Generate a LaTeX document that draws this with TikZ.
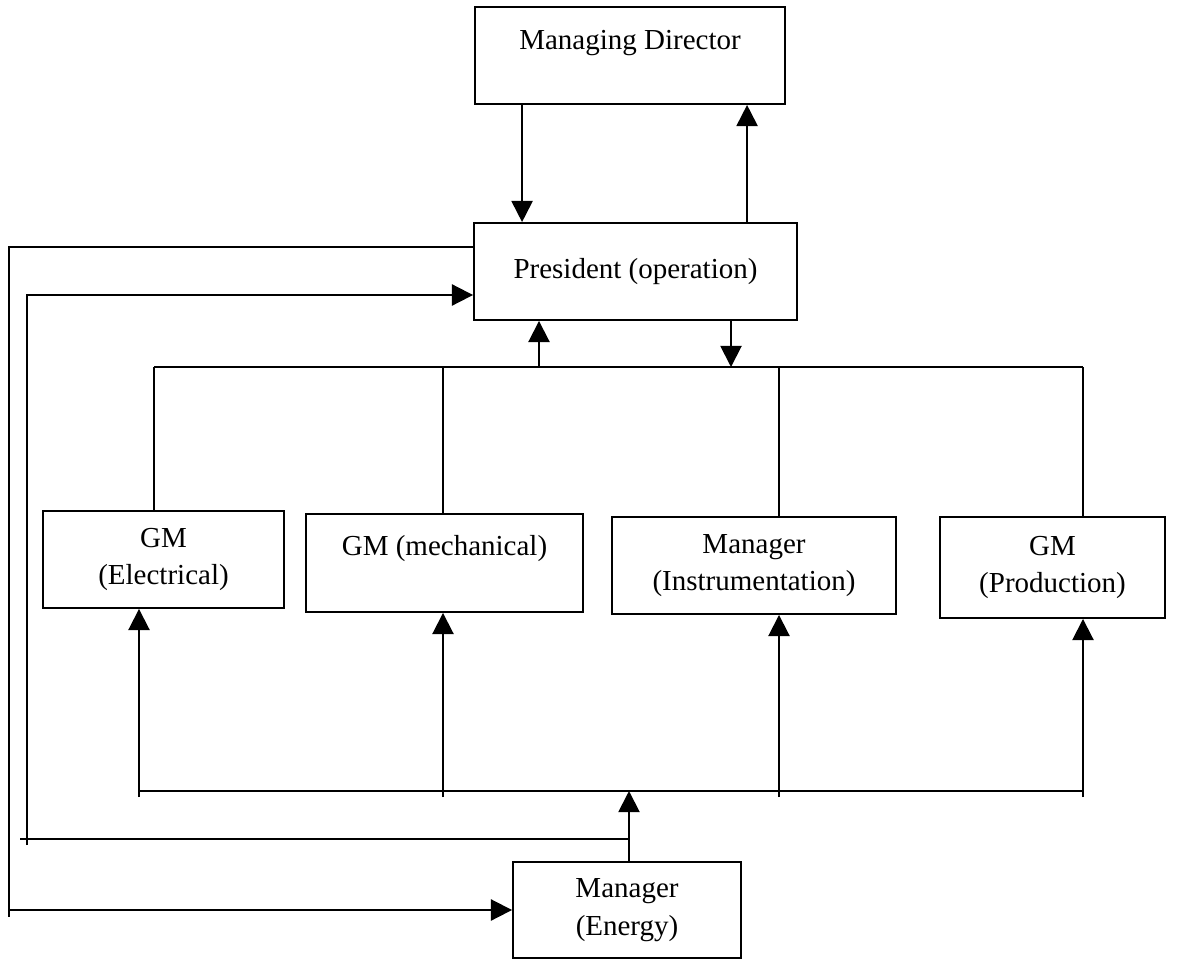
\documentclass[tikz,border=0pt]{standalone}
\usepackage{fontspec}
\setmainfont{Liberation Serif}
\usetikzlibrary{arrows.meta}
\usetikzlibrary{calc}

\tikzset{
  box/.style={draw, line width=1.1pt, inner sep=0pt, align=center,
    font=\fontsize{16.5}{21.5}\selectfont},
  link/.style={line width=1.1pt},
  arr/.style={link, -{Triangle[width=12pt,length=12pt]}}
}

\begin{document}
\begin{tikzpicture}[x=0.02cm,y=-0.02cm]
\useasboundingbox (0,0) rectangle (1190,960);
% the boxes
\node[box, minimum width=6.2cm, minimum height=1.94cm, text depth=18pt] (md) at (630,55.5) {Managing Director};
\node[box, minimum width=6.46cm, minimum height=1.94cm] (pres) at (635.5,271.5) {President (operation)};
\node[box, minimum width=4.82cm, minimum height=1.94cm] (gmel) at (163.5,559.5) {GM\\(Electrical)};
\node[box, minimum width=5.54cm, minimum height=1.96cm, text depth=20pt] (gmme) at (444.5,563) {GM (mechanical)};
\node[box, minimum width=5.68cm, minimum height=1.94cm] (mins) at (754,565.5) {Manager\\(Instrumentation)};
\node[box, minimum width=4.5cm, minimum height=2.02cm] (gmpr) at (1052.5,567.5) {GM\\(Production)};
\node[box, minimum width=4.56cm, minimum height=1.92cm] (en) at (627,910) {Manager\\(Energy)};

% director <-> president
\coordinate (mdl) at ($(md.south west)+(48,0)$);
\coordinate (mdr) at ($(md.south west)+(273,0)$);
\draw[arr] (mdl) -- (mdl |- pres.north);
\draw[arr] (mdr |- pres.north) -- (mdr);

% upper bus
\coordinate (ubl) at (154,367);
\coordinate (ubr) at (1083,367);
\draw[link] (ubl) -- (ubr);
\draw[arr] (539,367) -- (539,0 |- pres.south);
\draw[arr] (731,0 |- pres.south) -- (731,367);
\foreach \x/\b in {154/gmel,443/gmme,779/mins,1083/gmpr}
    \draw[link] (\x,367) -- (\x,0 |- \b.north);

% lower bus
\coordinate (lbl) at (139,791);
\coordinate (lbr) at (1083,791);
\draw[link] (lbl) -- (lbr);
\foreach \x/\b in {139/gmel,443/gmme,779/mins,1083/gmpr}
    \draw[arr] (\x,797) -- (\x,0 |- \b.south);
\draw[arr] (629,0 |- en.north) -- (629,791);

% energy manager feedback
\draw[link] (629,839) -- (20,839);
\draw[arr] (27,845) -- (27,295) -- (pres.west |- 0,295);
\draw[link] (pres.west |- 0,247) -| (9,917);
\draw[arr] (9,910) -- (en.west);
\end{tikzpicture}
\end{document}
